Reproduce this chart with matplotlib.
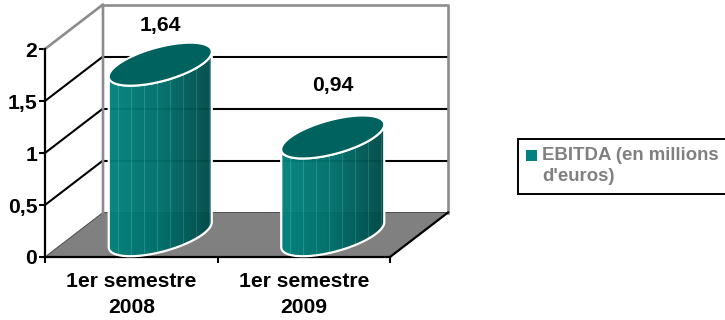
import numpy as np
import matplotlib
matplotlib.use("Agg")
import matplotlib.pyplot as plt
from matplotlib.colors import LinearSegmentedColormap
from matplotlib.legend_handler import HandlerPatch
from matplotlib.patches import Patch, PathPatch, Polygon, Rectangle
from matplotlib.path import Path

plt.rcParams['font.family'] = ['Liberation Sans', 'DejaVu Sans']
plt.rcParams['font.weight'] = 'bold'

categories = ["1er semestre\n2008", "1er semestre\n2009"]
values = [1.64, 0.94]
value_labels = ["1,64", "0,94"]
label_lift = [39, 51]
y_ticks = [0, 0.5, 1, 1.5, 2]
y_tick_labels = ["0", "0,5", "1", "1,5", "2"]
legend_label = "EBITDA (en millions\nd'euros)"

TEAL = '#008080'
TOP = '#00625f'
WALL = '#8c8c8c'
FLOOR = '#808080'

# oblique depth of the box, in data units
DEPTH_X = 58 / 172.5
DEPTH_Y = 44.5 / 104
BAR_A = 0.2986
BAR_B = 0.168
BAR_TILT = 0.12
BAR_DEPTH = 0.5

ramp = LinearSegmentedColormap.from_list('bar', ['#04827e', '#006f6b', '#004a48'])


def back(x, y):
    return x + DEPTH_X, y + DEPTH_Y


def draw_cylinder(ax, cat_x, value):
    cx = cat_x + BAR_DEPTH * DEPTH_X
    base = BAR_DEPTH * DEPTH_Y
    top = base + value

    # body outline: top half edge across, then lower half of the base ellipse
    t = np.linspace(np.pi, 2 * np.pi, 80)
    ex = cx + BAR_A * np.cos(t)
    ey = BAR_TILT * np.cos(t) + BAR_B * np.sin(t)
    xs = np.concatenate([ex, ex[::-1]])
    ys = np.concatenate([base + ey, top + ey[::-1]])
    outline = Polygon(np.column_stack([xs, ys]), closed=True, fc='none',
                      ec='white', lw=1.6, zorder=5)
    ax.add_patch(outline)

    # horizontal shading with the thin pale facets of the cylinder
    cols = 208
    shade = ramp(np.linspace(0, 1, cols))[:, :3]
    shade[6::13] = np.clip(shade[6::13] + 0.1, 0, 1)
    img = ax.imshow(shade[np.newaxis, :, :], aspect='auto', interpolation='nearest',
                    extent=[cx - BAR_A, cx + BAR_A, base - 0.3, top + 0.3],
                    alpha=0.97, zorder=4)
    img.set_clip_path(Polygon(np.column_stack([xs, ys]), closed=True, transform=ax.transData))

    # cap
    t = np.linspace(0, 2 * np.pi, 160)
    cap = np.column_stack([cx + BAR_A * np.cos(t),
                           top + BAR_TILT * np.cos(t) + BAR_B * np.sin(t)])
    ax.add_patch(PathPatch(Path(cap), fc=TOP, ec='white', lw=1.5, zorder=6))
    return cx, top


def first_line_square(legend, orig_handle, xdescent, ydescent, width, height, fontsize):
    # keeps the swatch beside the first line of the wrapped label
    return Rectangle((-xdescent, -ydescent + 8), width, height)


fig = plt.figure(figsize=(7.25, 3.2), dpi=100)
ax = fig.add_axes([0, 0, 1, 1])
ax.set_xlim(-45 / 172.5, 680 / 172.5)
ax.set_ylim(-63 / 104, 257 / 104)
ax.patch.set_visible(False)

n = len(categories)
ymax = y_ticks[-1]

# floor
floor = [(0, 0), (n, 0), back(n, 0), back(0, 0)]
ax.add_patch(Polygon(floor, closed=True, fc=FLOOR, ec='#4d4d4d', lw=0.7, zorder=1))

# grid on the side and back walls
for v in y_ticks[1:-1]:
    bx, by = back(0, v)
    ax.plot([0, bx], [v, by], color='black', lw=1.5, zorder=2)
    ax.plot([bx, back(n, v)[0]], [by, by], color='black', lw=1.5, zorder=2)

# wall frame
bx0, by0 = back(0, 0)
bx1, by1 = back(n, ymax)
ax.plot([0, bx0, bx0], [ymax, by1, by0], color=WALL, lw=1.9, zorder=3)
ax.plot([bx0, bx1, bx1], [by1, by1, by0], color=WALL, lw=1.9, zorder=3)
ax.plot([n, bx1], [0, by0], color='black', lw=1.6, zorder=3)

for i, v in enumerate(values):
    cx, top = draw_cylinder(ax, i + 0.5, v)
    ax.annotate(value_labels[i], (cx, top), xytext=(0, label_lift[i] * 0.72),
                textcoords='offset points', ha='center', va='center',
                fontsize=15.2, fontweight='bold', color='black', zorder=7)

# imshow resets the limits
ax.set_xlim(-45 / 172.5, 680 / 172.5)
ax.set_ylim(-63 / 104, 257 / 104)

for side in ['top', 'right']:
    ax.spines[side].set_visible(False)
ax.spines['left'].set_position(('data', 0))
ax.spines['bottom'].set_position(('data', 0))
ax.spines['left'].set_bounds(0, ymax)
ax.spines['bottom'].set_bounds(0, n)
ax.spines['left'].set_linewidth(1.6)
ax.spines['bottom'].set_linewidth(1.6)
for s in ['left', 'bottom']:
    ax.spines[s].set_zorder(3.5)

ax.set_yticks(y_ticks)
ax.set_yticklabels(y_tick_labels, fontsize=15.2, fontweight='bold')
ax.set_xticks(range(n + 1))
ax.set_xticklabels([])
ax.set_xticks([i + 0.5 for i in range(n)], minor=True)
ax.set_xticklabels(categories, minor=True, fontsize=15.2, fontweight='bold', linespacing=1.5)
ax.tick_params(axis='both', which='major', length=4, width=1.5, pad=1.5)
ax.tick_params(axis='x', which='minor', length=0, pad=10.5)

handle = Patch(facecolor=TEAL, edgecolor='none')
leg = ax.legend([handle], [legend_label], loc='upper left',
                bbox_to_anchor=(518 / 725, 1 - 139 / 320), borderaxespad=0,
                fontsize=13.4, frameon=True, fancybox=False, framealpha=1,
                edgecolor='black', handlelength=0.55, handleheight=0.55,
                handletextpad=0.3, borderpad=0.45, labelcolor='#808080',
                handler_map={Patch: HandlerPatch(patch_func=first_line_square)})
leg.get_frame().set_linewidth(1.4)
leg.get_texts()[0].set_linespacing(1.3)

fig.savefig("out.png", dpi=100)
plt.close(fig)
